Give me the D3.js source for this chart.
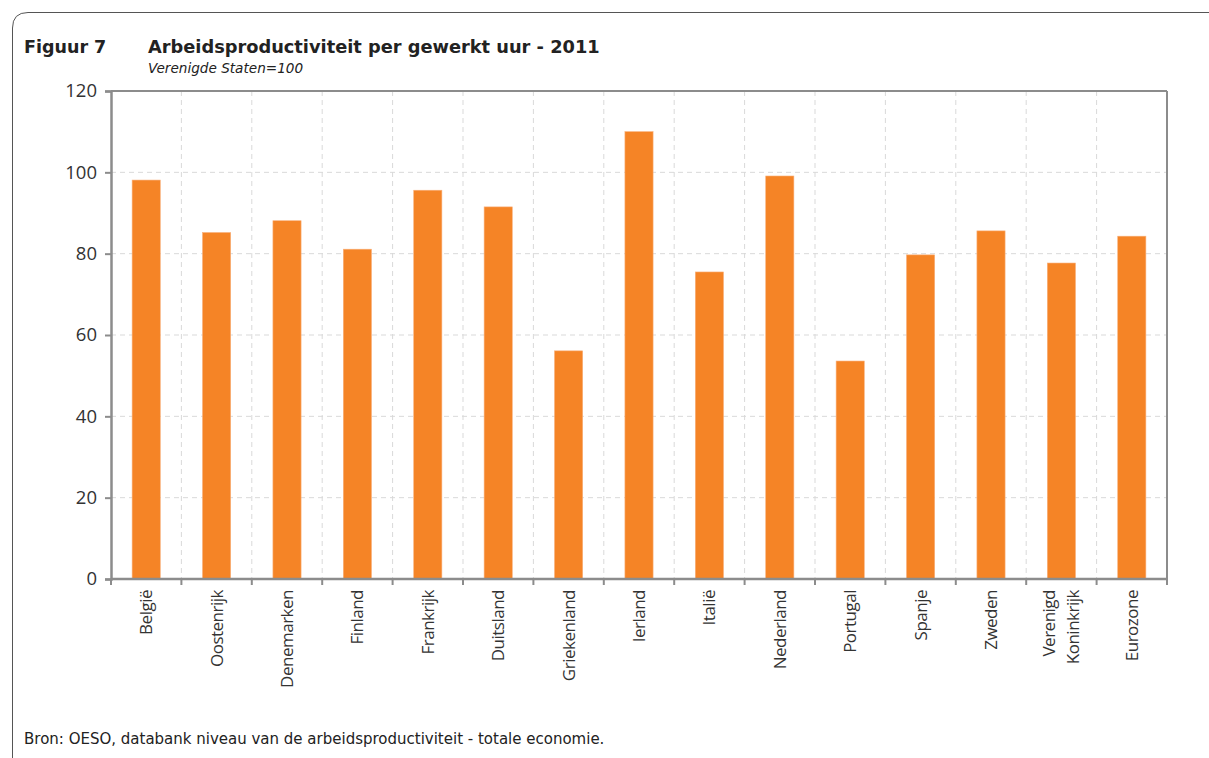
<!DOCTYPE html>
<html><head><meta charset="utf-8">
<script src="https://cdn.jsdelivr.net/npm/d3@7"></script>
<style>body{margin:0;background:#fff}svg{display:block}</style>
</head><body>
<svg id="c" width="1209" height="758"></svg>
<script>
const categories = ["België","Oostenrijk","Denemarken","Finland","Frankrijk","Duitsland","Griekenland","Ierland","Italië","Nederland","Portugal","Spanje","Zweden","Verenigd Koninkrijk","Eurozone"];
const values = [98.1,85.2,88.1,81.1,95.6,91.5,56.1,110.0,75.5,99.1,53.6,79.7,85.6,77.7,84.3];
const yTicks = [0,20,40,60,80,100,120];

const svg = d3.select("#c");
const L=111,R=1167,T=91,B=579;
const x = d3.scaleBand().domain(categories).range([L,R]).paddingInner(0).paddingOuter(0);
const y = d3.scaleLinear().domain([0,120]).range([B,T]);

// frame
svg.append("path").attr("d","M12.5,758 L12.5,28 Q12.5,12.5 28,12.5 L1209,12.5")
  .attr("fill","none").attr("stroke","#555").attr("stroke-width",1);

// title
const tf="'DejaVu Sans', Verdana, sans-serif";
svg.append("text").attr("x",24).attr("y",53).attr("font-family",tf).attr("font-weight","bold").attr("font-size",17.5).attr("fill","#222").text("Figuur 7");
svg.append("text").attr("x",148).attr("y",53).attr("font-family",tf).attr("font-weight","bold").attr("font-size",17.8).attr("fill","#222").text("Arbeidsproductiviteit per gewerkt uur - 2011");
svg.append("text").attr("x",148).attr("y",73).attr("font-family",tf).attr("font-style","italic").attr("font-size",13.6).attr("fill","#222").text("Verenigde Staten=100");

// grid
const g = svg.append("g");
g.selectAll(".hg").data(yTicks.slice(1,-1)).enter().append("line")
  .attr("x1",L).attr("x2",R).attr("y1",d=>y(d)).attr("y2",d=>y(d))
  .attr("stroke","#d9d9d9").attr("stroke-dasharray","5,4").attr("stroke-width",1);
g.selectAll(".vg").data(categories.slice(1)).enter().append("line")
  .attr("x1",d=>x(d)).attr("x2",d=>x(d)).attr("y1",T).attr("y2",B)
  .attr("stroke","#d9d9d9").attr("stroke-dasharray","5,4").attr("stroke-width",1);

// bars
const bw = x.bandwidth()*0.4;
svg.selectAll(".bar").data(categories).enter().append("rect")
  .attr("x",d=>x(d)+x.bandwidth()/2-bw/2).attr("width",bw)
  .attr("y",(d,i)=>y(values[i])).attr("height",(d,i)=>B-y(values[i]))
  .attr("fill","#f58426").attr("stroke","#f9b07a").attr("stroke-width",0.6);

// plot border top/right
svg.append("line").attr("x1",L).attr("x2",R).attr("y1",T).attr("y2",T).attr("stroke","#8c8c8c").attr("stroke-width",2);
svg.append("line").attr("x1",R).attr("x2",R).attr("y1",T).attr("y2",B).attr("stroke","#8c8c8c").attr("stroke-width",2);

// y axis
const yAxis = d3.axisLeft(y).tickValues(yTicks).tickSize(6).tickPadding(8);
const ya = svg.append("g").attr("transform",`translate(${L},0)`).call(yAxis);
ya.select(".domain").attr("stroke","#8c8c8c").attr("stroke-width",2.5);
ya.selectAll(".tick line").attr("stroke","#8c8c8c").attr("stroke-width",2);
ya.selectAll(".tick text").attr("font-family","'Open Sans', sans-serif").attr("font-size",18.5).attr("fill","#333");

// x axis
const xa = svg.append("g").attr("transform",`translate(0,${B})`);
xa.append("line").attr("x1",L).attr("x2",R).attr("stroke","#8c8c8c").attr("stroke-width",2.5);
const bounds = categories.map(d=>x(d)).concat([R]);
xa.selectAll(".xt").data(bounds).enter().append("line")
  .attr("x1",d=>d).attr("x2",d=>d).attr("y1",0).attr("y2",6).attr("stroke","#8c8c8c").attr("stroke-width",2);
const lab = xa.selectAll(".xl").data(categories).enter().append("text")
  .attr("transform",d=>`translate(${x(d)+x.bandwidth()/2},11) rotate(-90)`)
  .attr("text-anchor","end").attr("font-family","'Open Sans', sans-serif").attr("font-size",17)
  .attr("letter-spacing","-0.5px").attr("fill","#333");
lab.each(function(d){
  const parts = d==="Verenigd Koninkrijk" ? ["Verenigd","Koninkrijk"] : [d];
  const t = d3.select(this);
  const lh = 24;
  parts.forEach((p,i)=>{
    t.append("tspan").attr("x",0).attr("y", (i-(parts.length-1)/2)*lh).attr("dy","0.35em").text(p);
  });
});

// source
svg.append("text").attr("x",24).attr("y",744).attr("font-family",tf).attr("font-size",15).attr("fill","#222")
  .text("Bron: OESO, databank niveau van de arbeidsproductiviteit - totale economie.");
</script>
</body></html>
